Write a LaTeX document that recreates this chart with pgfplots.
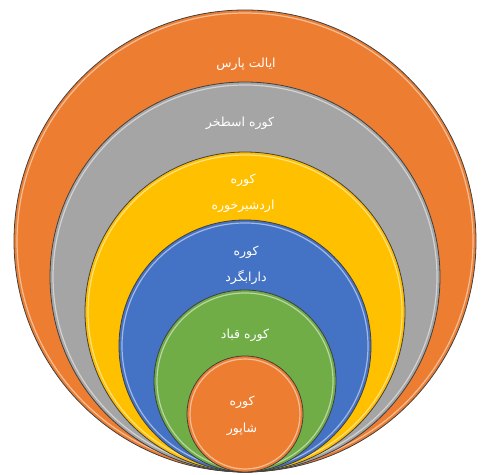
\documentclass[border=0pt]{standalone}
\usepackage{pgfplots}
\pgfplotsset{compat=1.18}
\usepackage{fontspec}
\TeXXeTstate=1
\newfontfamily\fa[Script=Arabic]{DejaVu Sans}
\definecolor{corange}{HTML}{ED7D31}
\definecolor{cgray}{HTML}{A5A5A5}
\definecolor{cyellow}{HTML}{FFC000}
\definecolor{cblue}{HTML}{4472C4}
\definecolor{cgreen}{HTML}{70AD47}
\tikzset{lbl/.style={text=white, font=\fa\fontsize{12.5}{15}\selectfont, align=center}}
\begin{document}
\begin{tikzpicture}
\begin{axis}[
  x=1pt, y=1pt,
  xmin=0, xmax=503, ymin=0, ymax=474,
  hide axis, clip=false,
  disc/.style={only marks, mark=*, mark options={fill=#1, draw=black!75, line width=0.8pt}},
  ring/.style={only marks, mark=o, mark options={draw=white, draw opacity=0.5, line width=1.2pt}},
]
\path[use as bounding box] (axis cs:0,0) rectangle (axis cs:503,474);
% circles: centre (x,y) and radius (pt)
\addplot[disc=corange, mark size=231pt] coordinates {(245,233)};
\addplot[ring, mark size=228pt] coordinates {(245,233)};
\addplot[disc=cgray, mark size=195pt] coordinates {(245,197)};
\addplot[ring, mark size=192pt] coordinates {(245,197)};
\addplot[disc=cyellow, mark size=160pt] coordinates {(245,162)};
\addplot[ring, mark size=157pt] coordinates {(245,162)};
\addplot[disc=cblue, mark size=126pt] coordinates {(245,128)};
\addplot[ring, mark size=123pt] coordinates {(245,128)};
\addplot[disc=cgreen, mark size=91pt] coordinates {(245,93)};
\addplot[ring, mark size=88pt] coordinates {(245,93)};
\addplot[disc=corange, mark size=58pt] coordinates {(245,60)};
\addplot[ring, mark size=55pt] coordinates {(245,60)};
\coordinate (L1) at (axis cs:246,410);
\coordinate (L2) at (axis cs:240,351);
\coordinate (L3) at (axis cs:243,294);
\coordinate (L4) at (axis cs:243,268);
\coordinate (L5) at (axis cs:246,222);
\coordinate (L6) at (axis cs:246,197);
\coordinate (L7) at (axis cs:245,139);
\coordinate (L8) at (axis cs:242,72);
\coordinate (L9) at (axis cs:242,45);
\end{axis}
\node[lbl] at (L1) {\beginR ایالت پارس\endR};
\node[lbl] at (L2) {\beginR کوره اسطخر\endR};
\node[lbl] at (L3) {\beginR کوره\endR};
\node[lbl] at (L4) {\beginR اردشیرخوره\endR};
\node[lbl] at (L5) {\beginR کوره\endR};
\node[lbl] at (L6) {\beginR دارابگرد\endR};
\node[lbl] at (L7) {\beginR کوره قباد\endR};
\node[lbl] at (L8) {\beginR کوره\endR};
\node[lbl] at (L9) {\beginR شاپور\endR};
\end{tikzpicture}
\end{document}
